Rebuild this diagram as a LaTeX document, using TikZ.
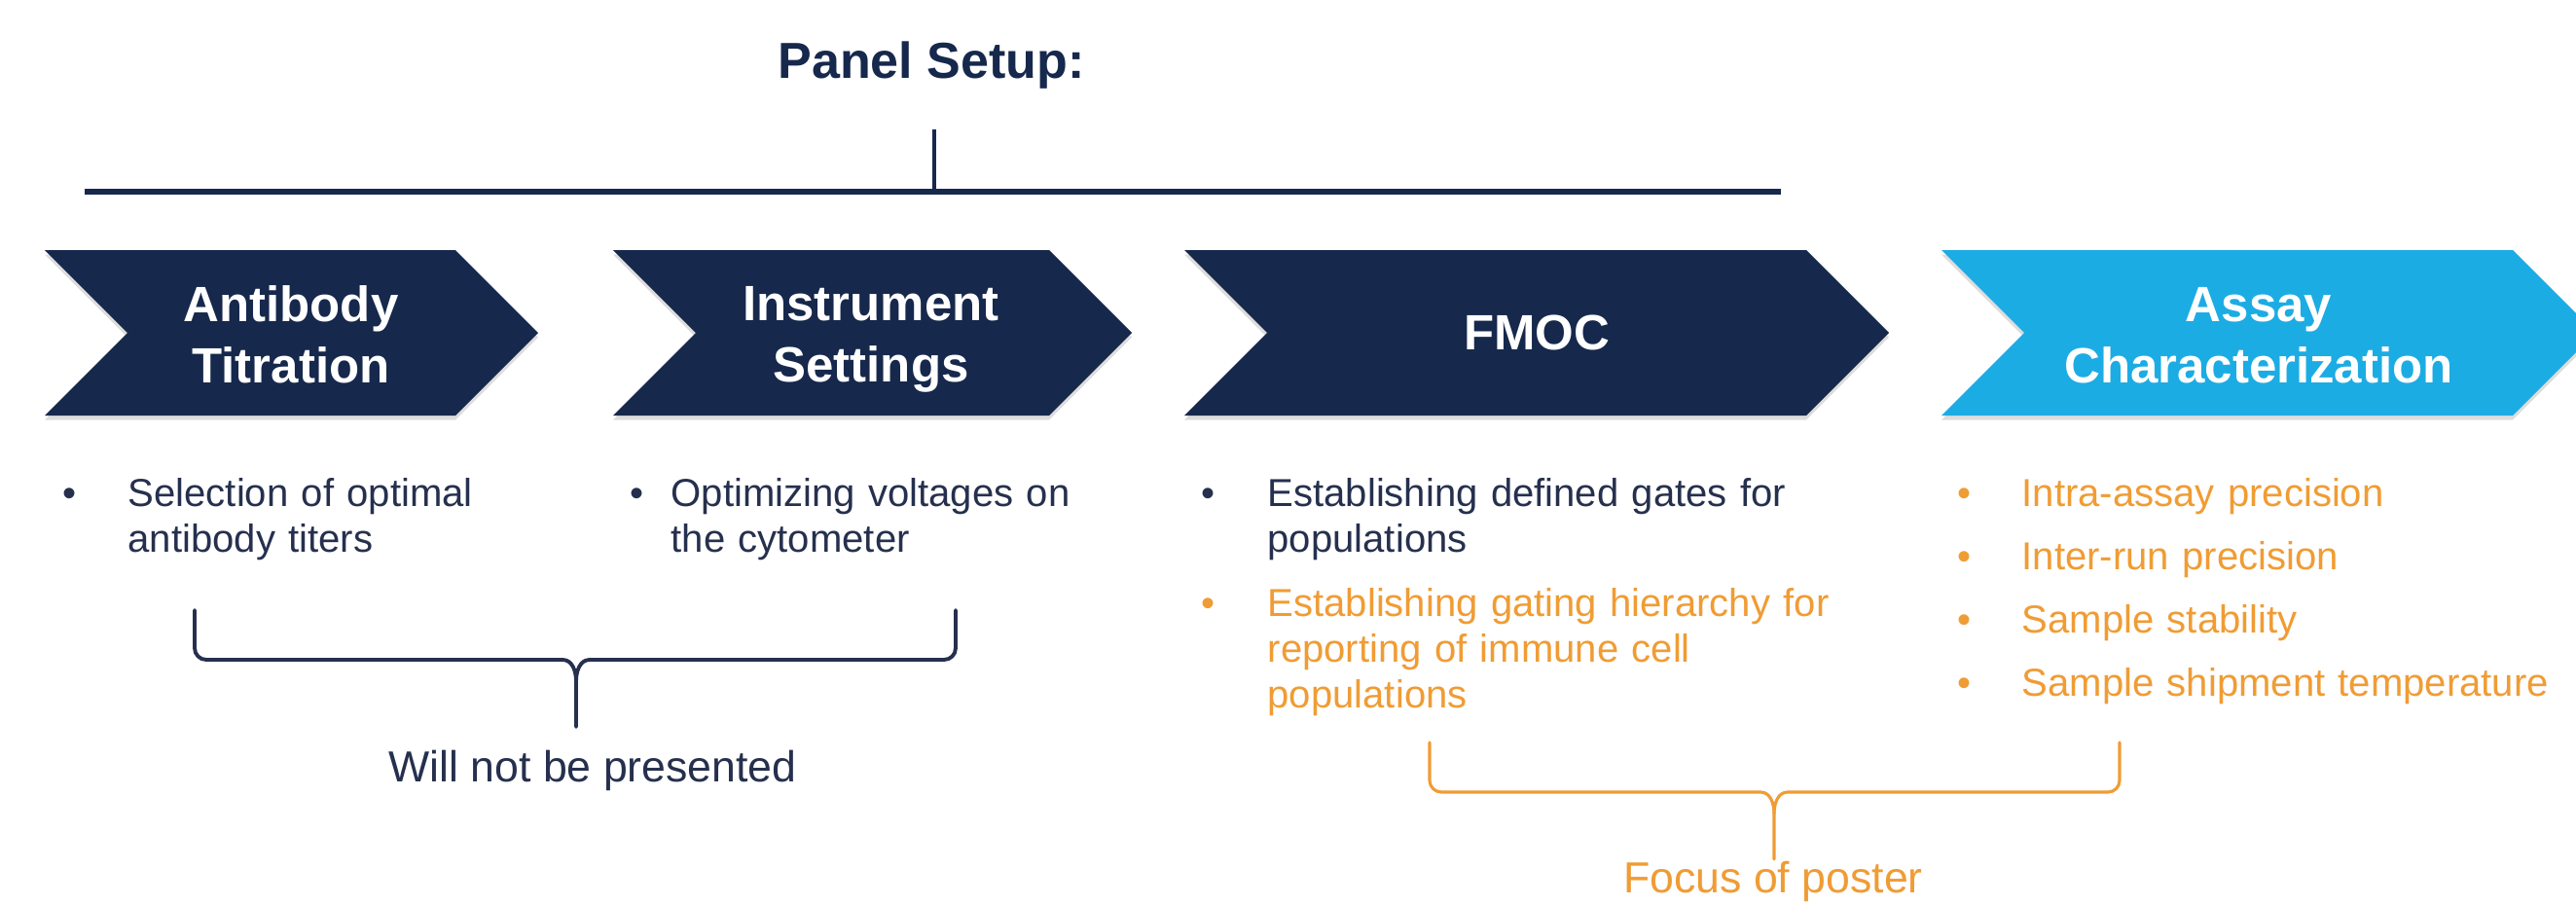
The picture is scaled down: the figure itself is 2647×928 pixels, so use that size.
\documentclass[tikz,border=0pt]{standalone}
\usepackage{fontspec}
\setmainfont{Liberation Sans}
\usetikzlibrary{shadows}
\definecolor{deepnavy}{RGB}{22,40,76}
\definecolor{inknavy}{RGB}{38,48,78}
\definecolor{skyblue}{RGB}{28,172,228}
\definecolor{posterorange}{RGB}{240,156,52}

\begin{document}
\begin{tikzpicture}[x=0.1mm,y=0.1mm,
  title/.style={font=\fontsize{14.8}{17}\selectfont\bfseries,text=deepnavy,anchor=base,inner sep=0pt},
  chev/.style={font=\fontsize{14.5}{17.9}\selectfont\bfseries,text=white,align=center,inner sep=0pt},
  entry/.style={font=\fontsize{11.4}{13.4}\selectfont,anchor=base west,inner sep=0pt,text width=#1,align=left},
  dot/.style={font=\fontsize{11.4}{13.4}\selectfont,anchor=base,inner sep=0pt},
  lbl/.style={font=\fontsize{12.7}{15}\selectfont,anchor=base,inner sep=0pt},
  brk/.style={line width=1.1pt,line cap=round,line join=round},
  shade/.style={drop shadow={shadow xshift=0pt,shadow yshift=-1.3pt,opacity=.22,fill=black!60}}]

\fill[white] (0,0) rectangle (2647,-928);
\useasboundingbox (0,0) rectangle (2647,-928);

\node[title] (ps) at (957,-80) {Panel Setup:};
\coordinate (barL) at (87,-197);
\coordinate (barR) at (1830,-197);
\coordinate (barT) at (960,-133);
\draw[deepnavy,line width=1.7pt] (barL) -- (barR);
\draw[deepnavy,line width=0.9pt] (barT) -- (barT |- barL);

\foreach \l/\r/\c in {46/468/deepnavy,630/1078/deepnavy,1217/1856/deepnavy,1995/2582/skyblue}
  \fill[\c,shade] (\l,-257) -- (\r,-257) -- (\r+85,-342) -- (\r,-427) -- (\l,-427) -- (\l+85,-342) -- cycle;

\node[chev] (abt)  at (299,-344)  {Antibody\\Titration};
\node[chev] (ins)  at (895,-349)  {Instrument\\Settings};
\node[chev] (fmoc) at (1579,-342) {FMOC};
\node[chev] (asy)  at (2321,-345) {Assay\\Characterization};

\foreach \x/\y/\c in {72/520/inknavy,655/520/inknavy,1242/520/inknavy,1242/633/posterorange,
  2018/520/posterorange,2018/585/posterorange,2018/650/posterorange,2018/715/posterorange}
  \node[dot,text=\c] (b-\x-\y) at (\x,-\y) {•};

\node[entry=42mm,text=inknavy]  (sel) at (131,-520)  {Selection of optimal\\antibody titers};
\node[entry=45mm,text=inknavy]  (opt) at (689,-520)  {Optimizing voltages on\\the cytometer};
\node[entry=64mm,text=inknavy]  (gat) at (1302,-520) {Establishing defined gates for\\populations};
\node[entry=64mm,text=posterorange] (hie) at (1302,-633) {Establishing gating hierarchy for\\reporting of immune cell\\populations};
\node[entry=60mm,text=posterorange] (ia) at (2077,-520) {Intra-assay precision};
\node[entry=60mm,text=posterorange] (ir) at (2077,-585) {Inter-run precision};
\node[entry=60mm,text=posterorange] (ss) at (2077,-650) {Sample stability};
\node[entry=60mm,text=posterorange] (st) at (2077,-715) {Sample shipment temperature};

\node[lbl,text=inknavy] (wnp) at (609,-803) {Will not be presented};
\coordinate (wl) at (200,-627);
\coordinate (wr) at (982,-627);
\coordinate (wm) at (592,-700);
\coordinate (wt) at (592,-747);
\draw[brk,inknavy] (wl) -- (200,-666) to[out=-90,in=180] (212,-678) -- (578,-678) to[out=0,in=90] (wm) -- (wt);
\draw[brk,inknavy] (wr) -- (982,-666) to[out=-90,in=0] (970,-678) -- (606,-678) to[out=180,in=90] (wm);

\node[lbl,text=posterorange] (fop) at (1822,-917) {Focus of poster};
\coordinate (fl) at (1469,-763);
\coordinate (fr) at (2178,-763);
\coordinate (fm) at (1823,-836);
\coordinate (ft) at (1823,-883);
\draw[brk,posterorange,line width=0.9pt] (fl) -- (1469,-802) to[out=-90,in=180] (1481,-814) -- (1809,-814) to[out=0,in=90] (fm) -- (ft);
\draw[brk,posterorange,line width=0.9pt] (fr) -- (2178,-802) to[out=-90,in=0] (2166,-814) -- (1837,-814) to[out=180,in=90] (fm);
\end{tikzpicture}
\end{document}
